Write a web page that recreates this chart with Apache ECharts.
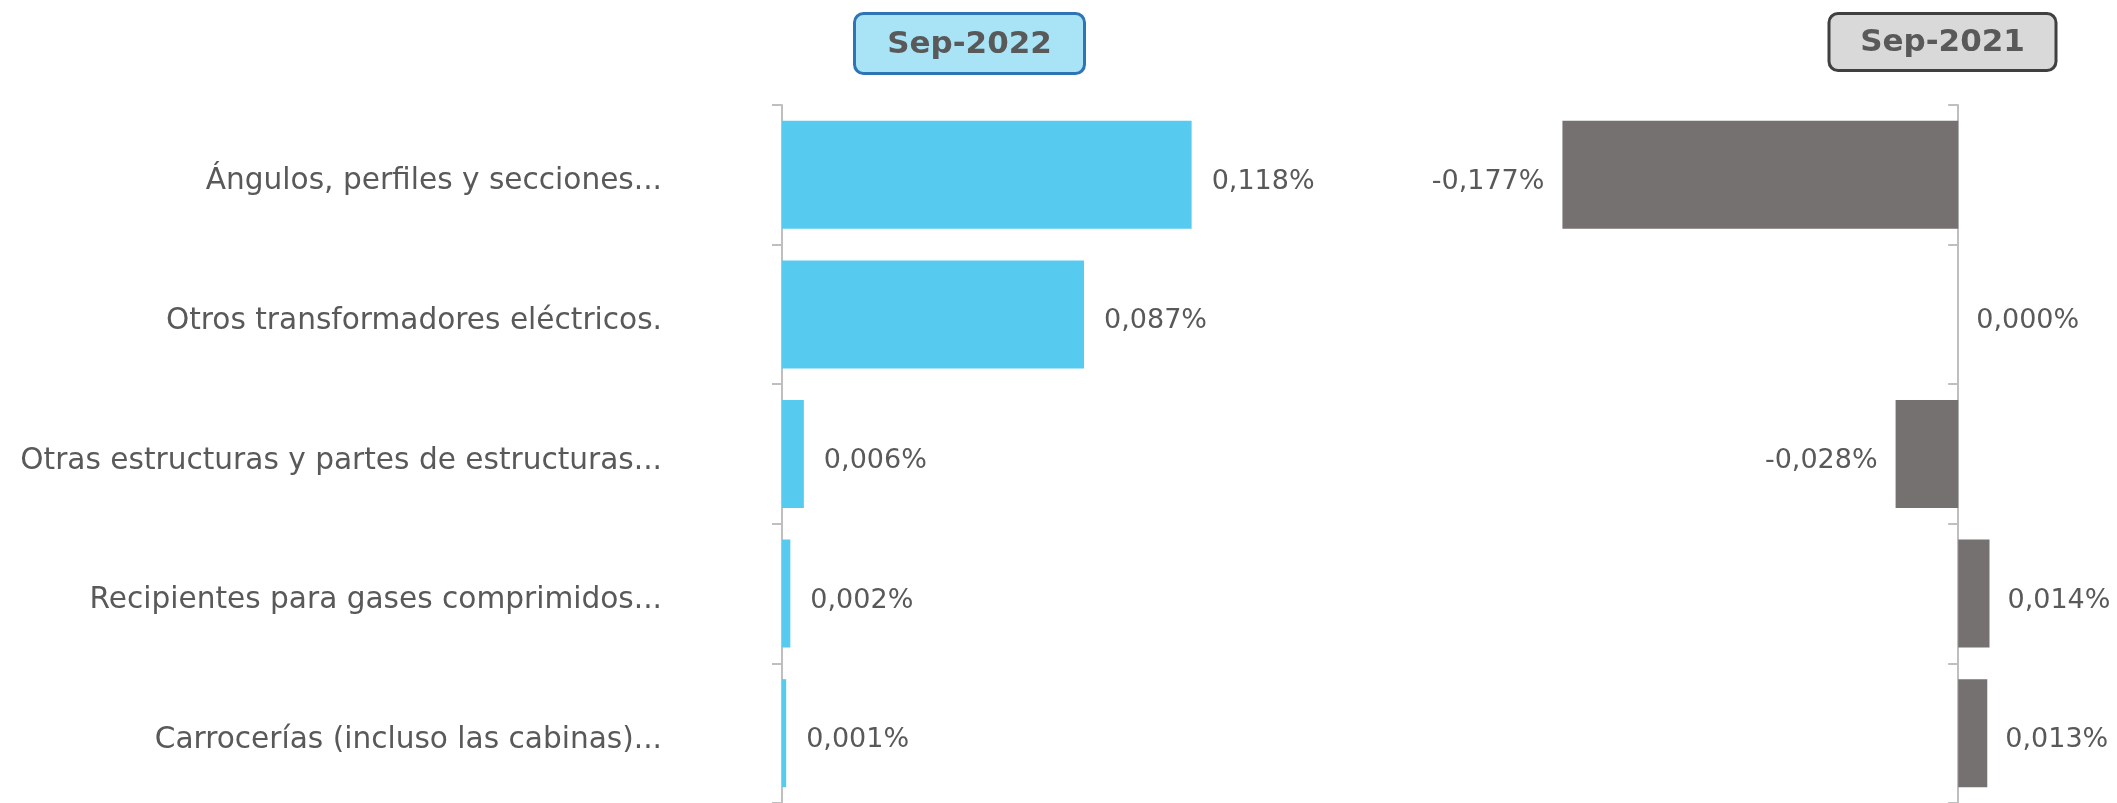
<!DOCTYPE html>
<html>
<head>
<meta charset="utf-8">
<script src="https://cdn.jsdelivr.net/npm/echarts@6/dist/echarts.min.js"></script>
<style>
  html, body { margin: 0; padding: 0; background: #fff; }
  #mycharts { width: 2117px; height: 803px; }
</style>
</head>
<body>
<div id="mycharts"></div>
<script>
// categories, top to bottom
const categories = [
    'Ángulos, perfiles y secciones...',
    'Otros transformadores eléctricos.',
    'Otras estructuras y partes de estructuras...',
    'Recipientes para gases comprimidos...',
    'Carrocerías (incluso las cabinas)...'
];
// values in %
const sep2022 = [0.118, 0.087, 0.0063, 0.0024, 0.0012];
const sep2021 = [-0.177, 0, -0.028, 0.014, 0.013];

const headers = ['Sep-2022', 'Sep-2021'];

const FONT = 'DejaVu Sans';
const TEXT = '#595959';

const fmt = v => v.toFixed(3).replace('.', ',') + '%';

const headerBox = (text, cx, w, h, fill, stroke) => ({
    type: 'group',
    left: cx - w / 2,
    top: 12,
    children: [{
        type: 'rect',
        shape: {x: 0, y: 0, width: w, height: h, r: 9},
        style: {fill: fill, stroke: stroke, lineWidth: 3}
    }, {
        type: 'text',
        x: w / 2,
        y: h / 2 + 1,
        style: {
            text: text,
            fill: TEXT,
            font: 'bold 31px "' + FONT + '"',
            align: 'center',
            verticalAlign: 'middle'
        }
    }]
});

let chart = echarts.init(document.getElementById('mycharts'));

const catAxis = (gridIndex, showLabels) => ({
    type: 'category',
    gridIndex: gridIndex,
    data: categories,
    inverse: true,
    axisLine: {lineStyle: {color: '#bfbfbf', width: 2}},
    axisTick: {show: true, length: 10, lineStyle: {color: '#bfbfbf', width: 2}},
    axisLabel: {
        show: showLabels,
        margin: 120,
        formatter: v => '{c|' + v + '}',
        rich: {
            c: {
                color: TEXT,
                fontFamily: FONT,
                fontSize: 29.6,
                padding: [14, 0, 0, 0]
            }
        }
    }
});

const valueLabel = {
    show: true,
    color: TEXT,
    fontFamily: FONT,
    fontSize: 27,
    offset: [0, 7],
    formatter: p => fmt(p.value)
};

chart.setOption({
    animation: false,
    grid: [
        {left: 782, top: 105, width: 486, height: 702},
        {left: 1511, top: 105, width: 559, height: 702}
    ],
    xAxis: [
        {type: 'value', gridIndex: 0, min: 0, max: 0.14, show: false},
        {type: 'value', gridIndex: 1, min: -0.2, max: 0.05, show: false}
    ],
    yAxis: [catAxis(0, true), catAxis(1, false)],
    graphic: [
        headerBox(headers[0], 968, 230, 60, '#a9e3f6', '#2e75b6'),
        headerBox(headers[1], 1941, 227, 57, '#d9d9d9', '#404040')
    ],
    series: [{
        type: 'bar',
        xAxisIndex: 0,
        yAxisIndex: 0,
        barWidth: 108,
        data: sep2022,
        itemStyle: {color: '#56cbef'},
        label: Object.assign({}, valueLabel, {position: 'right', distance: 20})
    }, {
        type: 'bar',
        xAxisIndex: 1,
        yAxisIndex: 1,
        barWidth: 108,
        data: sep2021.map(v => ({
            value: v,
            label: {position: v < 0 ? 'left' : 'right'}
        })),
        itemStyle: {color: '#767171'},
        label: Object.assign({}, valueLabel, {distance: 18})
    }]
});
</script>
</body>
</html>
